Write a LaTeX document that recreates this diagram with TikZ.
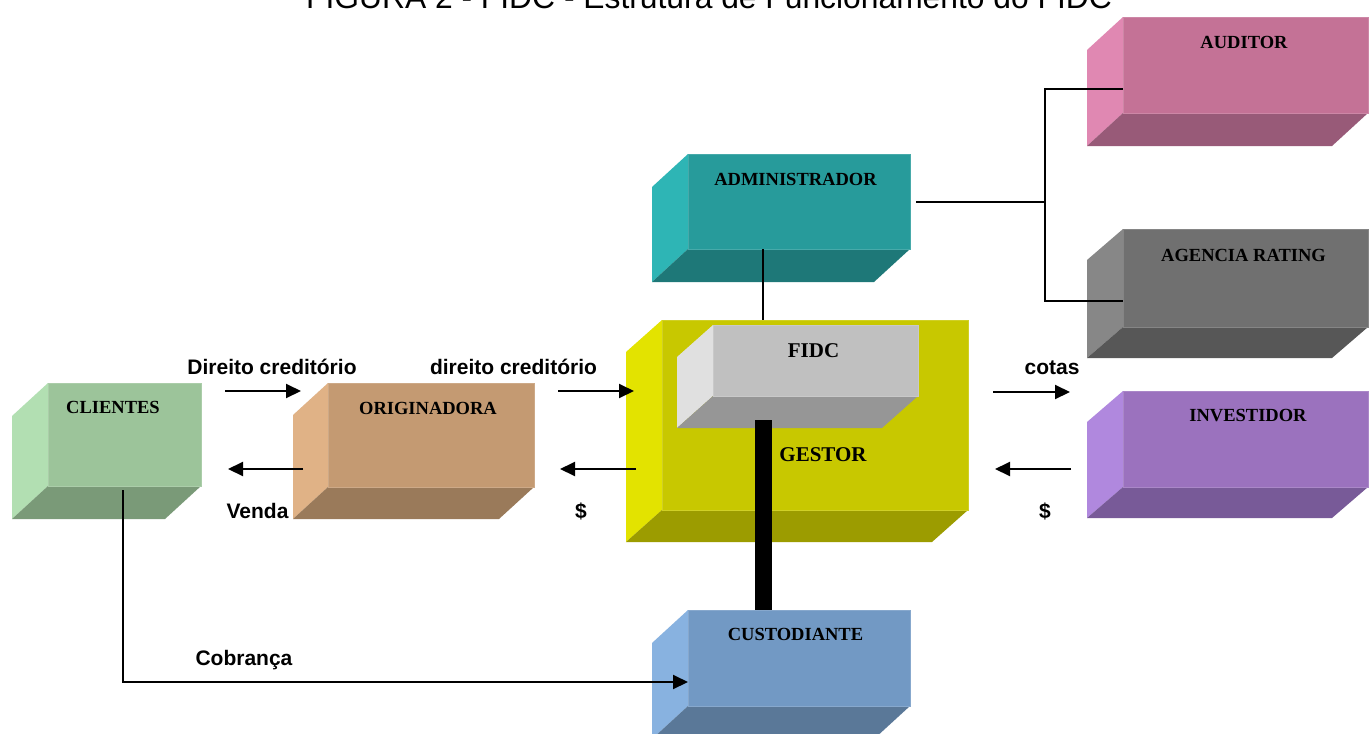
\documentclass[tikz,border=0pt]{standalone}
\usepackage{fontspec}
\setmainfont{Liberation Serif}
\newfontfamily\arialf{Liberation Sans}
\usetikzlibrary{arrows.meta,calc}
\definecolor{cliF}{HTML}{9CC49A}\definecolor{cliL}{HTML}{B2DFB2}\definecolor{cliB}{HTML}{7A9A78}
\definecolor{oriF}{HTML}{C49A72}\definecolor{oriL}{HTML}{E0B286}\definecolor{oriB}{HTML}{9A7A5A}
\definecolor{gesF}{HTML}{C8C800}\definecolor{gesL}{HTML}{E3E300}\definecolor{gesB}{HTML}{9C9C00}
\definecolor{fidF}{HTML}{C0C0C0}\definecolor{fidL}{HTML}{E0E0E0}\definecolor{fidB}{HTML}{969696}
\definecolor{admF}{HTML}{279B9B}\definecolor{admL}{HTML}{2EB5B5}\definecolor{admB}{HTML}{1E7878}
\definecolor{audF}{HTML}{C47296}\definecolor{audL}{HTML}{E088B2}\definecolor{audB}{HTML}{985A78}
\definecolor{agrF}{HTML}{707070}\definecolor{agrL}{HTML}{878787}\definecolor{agrB}{HTML}{575757}
\definecolor{invF}{HTML}{9B72BE}\definecolor{invL}{HTML}{B088DE}\definecolor{invB}{HTML}{785A98}
\definecolor{cusF}{HTML}{7299C4}\definecolor{cusL}{HTML}{88B2E0}\definecolor{cusB}{HTML}{5A7898}
% #1 name, #2 x front-left, #3 y top, #4 x right, #5 y front-bottom, #6 dx, #7 dy, #8 colour prefix
\newcommand\cubebox[8]{%
  \fill[#8L] (#2,#3) -- (#2,#5) -- (#2-#6,#5+#7) -- (#2-#6,#3+#7) -- cycle;
  \fill[#8B] (#2,#5) -- (#4,#5) -- (#4-#6,#5+#7) -- (#2-#6,#5+#7) -- cycle;
  \node[fill=#8F, draw=#8F!85!white, line width=0.8pt, inner sep=0pt, outer sep=0pt,
        anchor=north west, minimum width={#4pt-#2pt}, minimum height={#5pt-#3pt}] (#1) at (#2,#3) {};
}
\tikzset{
  boxtxt/.style={font=\fontsize{18.5}{20}\selectfont\bfseries, text=black, inner sep=0pt, anchor=base},
  bigtxt/.style={font=\fontsize{21}{23}\selectfont\bfseries, text=black, inner sep=0pt, anchor=base},
  lab/.style={font=\arialf\fontsize{21}{24}\selectfont\bfseries, inner sep=0pt, anchor=base},
  conn/.style={line width=2pt, line cap=butt},
  arr/.style={line width=2pt, -{Triangle[length=15pt,width=14pt]}},
}
\begin{document}
\begin{tikzpicture}[x=1pt,y=-1pt]
\useasboundingbox (0,0) rectangle (1369,734);
\clip (0,0) rectangle (1369,734);
\fill[white] (0,0) rectangle (1369,734);
% title (cut off at top)
\node[font=\arialf\fontsize{31.8}{36}\selectfont, anchor=base, inner sep=0pt] (title) at (709,8)
  {FIGURA 2 - FIDC - Estrutura de Funcionamento do FIDC};
% boxes
\cubebox{cli}{48}{383}{201}{486}{36}{33}{cli}
\cubebox{ori}{328}{383}{534}{487}{35}{32}{ori}
\cubebox{ges}{662}{320}{968}{510}{36}{32}{ges}
\cubebox{fid}{713}{325}{918}{396}{36}{32}{fid}
\cubebox{adm}{688}{154}{910}{249}{36}{33}{adm}
\cubebox{aud}{1123}{17}{1368}{113}{36}{33}{aud}
\cubebox{agr}{1123}{229}{1368}{327}{36}{31}{agr}
\cubebox{inv}{1123}{391}{1368}{487}{36}{31}{inv}
\cubebox{cus}{688}{610}{910}{706}{36}{33}{cus}
% box texts
\node[boxtxt] (cliT) at (113,413) {CLIENTES};
\node[boxtxt] (oriT) at (428,414) {ORIGINADORA};
\node[boxtxt] (admT) at (795.5,185) {ADMINISTRADOR};
\node[boxtxt] (audT) at (1244,48) {AUDITOR};
\node[boxtxt] (agrT) at (1243.5,261) {AGENCIA RATING};
\node[boxtxt] (invT) at (1248,421) {INVESTIDOR};
\node[boxtxt] (cusT) at (795.5,640) {CUSTODIANTE};
\node[bigtxt] (fidT) at (813.5,357) {FIDC};
\node[bigtxt] (gesT) at (823,461) {GESTOR};
% connectors: administrador to auditor / agencia
\coordinate (jn) at ($(adm.east)+(135,0)$);
\draw[conn] ([xshift=6pt]adm.east) -- (jn);
\draw[conn] ([yshift=-72pt]aud.north west) -| (jn) |- ([yshift=-72pt]agr.north west);
% administrador to gestor
\coordinate (admBot) at ($(adm.south)+(-36,0)$);
\draw[conn] (admBot) -- (admBot |- ges.north);
% thick bar fidc - custodiante
\coordinate (barTop) at ($(fid.south)+(-52,24)$);
\draw[line width=17pt] (barTop) -- (barTop |- cus.north);
% cobranca
\coordinate (cobStart) at ($(cli.south)+(-1.5,4)$);
\draw[arr] (cobStart) |- ([yshift=-24pt]cus.west);
% horizontal arrows
\draw[arr] ($(cli.north east)+(24,8)$) -- ($(ori.north west)+(-27,8)$);
\draw[arr] ($(ori.north west)+(-25,86)$) -- ($(cli.north east)+(27,86)$);
\draw[arr] ($(ori.north east)+(24,8)$) -- ($(ges.north west)+(-28,71)$);
\draw[arr] ($(ges.north west)+(-26,149)$) -- ($(ori.north east)+(26,86)$);
\draw[arr] ($(ges.north east)+(25,72)$) -- ($(inv.north west)+(-53,1)$);
\draw[arr] ($(inv.north west)+(-52,78)$) -- ($(ges.north east)+(27,149)$);
% labels
\node[lab] (lDir1) at (272,374) {Direito creditório};
\node[lab] (lDir2) at (513.5,374) {direito creditório};
\node[lab] (lVenda) at (257.5,518) {Venda};
\node[lab] (lDol1) at (581,518) {\$};
\node[lab] (lCotas) at (1052,374) {cotas};
\node[lab] (lDol2) at (1045,518) {\$};
\node[lab] (lCob) at (244,665) {Cobrança};
\end{tikzpicture}
\end{document}
